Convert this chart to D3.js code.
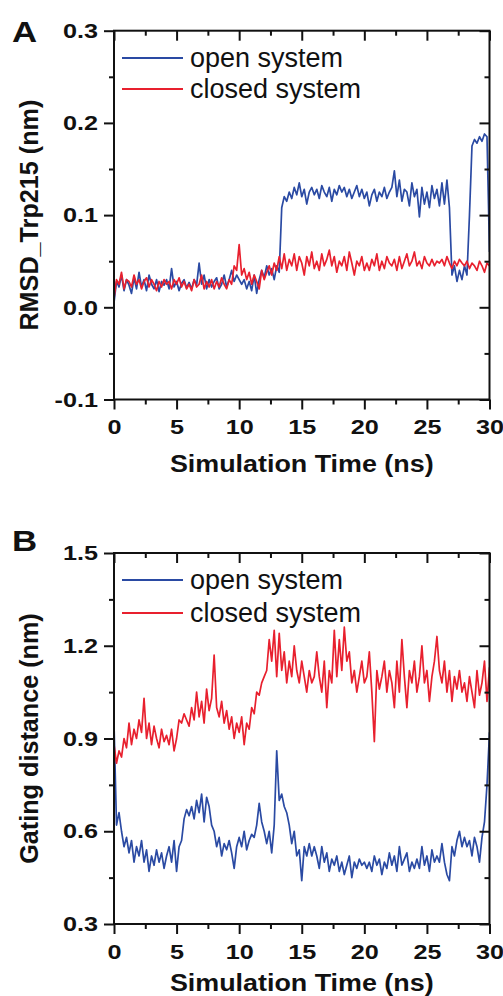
<!DOCTYPE html>
<html><head><meta charset="utf-8">
<script src="https://cdn.jsdelivr.net/npm/d3@7"></script>
<style>body{margin:0;background:#fff}svg{display:block}</style>
</head><body>
<svg id="c" width="503" height="996"></svg>
<script>
const timeStep = 0.2;
const seriesNames = ["open system", "closed system"];
const xTicks = [0, 5, 10, 15, 20, 25, 30];
const yTicksA = [-0.1, 0.0, 0.1, 0.2, 0.3];
const yTicksB = [0.3, 0.6, 0.9, 1.2, 1.5];

const rmsdOpen = [
0.005,0.028,0.022,0.035,0.018,0.03,0.024,0.015,0.032,0.02,0.038,
0.022,0.03,0.018,0.035,0.025,0.02,0.03,0.017,0.028,0.024,
0.03,0.02,0.042,0.022,0.028,0.018,0.026,0.03,0.021,0.027,
0.02,0.03,0.024,0.048,0.025,0.035,0.02,0.03,0.022,0.028,
0.032,0.02,0.025,0.035,0.022,0.03,0.04,0.028,0.035,0.03,
0.025,0.03,0.02,0.028,0.018,0.035,0.015,0.03,0.04,0.032,
0.045,0.035,0.042,0.03,0.045,0.038,0.108,0.12,0.115,0.125,
0.118,0.13,0.122,0.135,0.12,0.128,0.112,0.125,0.13,0.122,
0.128,0.118,0.132,0.125,0.12,0.13,0.115,0.128,0.122,0.132,
0.125,0.13,0.12,0.128,0.118,0.125,0.132,0.12,0.128,0.118,
0.125,0.11,0.122,0.128,0.115,0.125,0.12,0.13,0.118,0.125,
0.13,0.148,0.12,0.138,0.115,0.128,0.125,0.11,0.135,0.12,
0.128,0.098,0.13,0.112,0.125,0.108,0.132,0.118,0.128,0.11,
0.135,0.112,0.138,0.108,0.035,0.045,0.028,0.04,0.03,0.045,
0.035,0.1,0.175,0.182,0.178,0.185,0.18,0.188,0.185,0.06];

const rmsdClosed = [
0.01,0.03,0.025,0.038,0.02,0.03,0.028,0.022,0.035,0.025,0.03,
0.02,0.028,0.032,0.022,0.03,0.025,0.018,0.028,0.022,0.03,
0.025,0.028,0.02,0.03,0.025,0.032,0.022,0.028,0.02,0.025,
0.018,0.03,0.022,0.025,0.035,0.02,0.028,0.022,0.03,0.02,
0.028,0.022,0.032,0.025,0.02,0.03,0.025,0.045,0.04,0.068,
0.035,0.042,0.03,0.038,0.025,0.035,0.028,0.02,0.04,0.03,
0.038,0.045,0.035,0.048,0.04,0.055,0.042,0.058,0.04,0.052,
0.045,0.058,0.04,0.055,0.048,0.035,0.055,0.045,0.06,0.042,
0.05,0.04,0.058,0.045,0.052,0.062,0.045,0.055,0.038,0.05,
0.045,0.055,0.04,0.06,0.048,0.035,0.05,0.045,0.055,0.04,
0.048,0.04,0.052,0.045,0.058,0.04,0.05,0.042,0.055,0.048,
0.045,0.052,0.04,0.055,0.042,0.05,0.058,0.045,0.05,0.06,
0.045,0.05,0.042,0.055,0.048,0.045,0.052,0.045,0.05,0.048,
0.052,0.045,0.055,0.048,0.042,0.05,0.045,0.052,0.048,0.045,
0.05,0.042,0.048,0.045,0.04,0.05,0.045,0.038,0.048,0.045];

const gateOpen = [
0.95,0.62,0.66,0.6,0.55,0.58,0.53,0.57,0.5,0.55,0.52,
0.57,0.5,0.54,0.47,0.52,0.49,0.54,0.5,0.53,0.48,
0.52,0.55,0.5,0.57,0.47,0.55,0.57,0.64,0.67,0.65,
0.68,0.64,0.7,0.66,0.72,0.63,0.71,0.68,0.62,0.6,
0.55,0.58,0.52,0.56,0.54,0.57,0.53,0.48,0.55,0.58,
0.55,0.6,0.54,0.57,0.59,0.58,0.62,0.69,0.63,0.6,
0.56,0.6,0.53,0.62,0.86,0.7,0.72,0.68,0.66,0.62,
0.56,0.6,0.52,0.54,0.44,0.55,0.52,0.56,0.52,0.55,
0.52,0.48,0.55,0.5,0.53,0.47,0.51,0.49,0.52,0.47,
0.5,0.46,0.49,0.52,0.45,0.5,0.48,0.51,0.49,0.5,
0.48,0.5,0.47,0.52,0.49,0.51,0.46,0.5,0.48,0.53,
0.49,0.52,0.47,0.55,0.49,0.51,0.53,0.47,0.5,0.48,
0.51,0.48,0.55,0.49,0.52,0.47,0.54,0.5,0.52,0.5,
0.56,0.5,0.46,0.44,0.55,0.52,0.57,0.6,0.55,0.58,
0.55,0.57,0.52,0.58,0.55,0.5,0.58,0.63,0.75,0.92];

const gateClosed = [
0.88,0.82,0.86,0.84,0.9,0.87,0.95,0.88,0.93,0.9,0.96,
0.92,1.03,0.9,0.95,0.88,0.94,0.9,0.87,0.93,0.89,
0.91,0.88,0.93,0.86,0.9,0.96,0.95,0.98,0.96,0.94,
1.0,0.96,1.05,0.97,1.02,0.95,1.06,0.99,1.03,1.17,
1.0,0.97,1.02,0.95,0.99,0.93,0.97,0.9,0.95,0.92,
0.97,0.88,0.95,0.93,1.0,0.98,1.05,1.04,1.08,1.1,
1.12,1.22,1.15,1.25,1.1,1.24,1.12,1.18,1.08,1.15,
1.1,1.2,1.12,1.08,1.15,1.1,1.05,1.12,1.08,1.1,
1.18,1.1,1.05,1.15,1.0,1.12,1.08,1.25,1.1,1.22,
1.12,1.26,1.15,1.18,1.08,1.12,1.05,1.1,1.15,1.08,
1.1,1.18,1.05,0.89,1.12,1.06,1.1,1.15,1.05,1.12,
1.08,1.0,1.15,1.05,1.22,1.1,1.0,1.12,1.08,1.15,
1.05,1.1,1.2,1.08,1.12,1.02,1.1,1.15,1.23,1.12,
1.08,1.15,1.05,1.12,1.02,1.1,1.06,1.12,1.05,1.08,
1.02,1.1,1.05,1.0,1.12,1.04,1.08,1.15,1.02,1.13];

const colors = {open: "#2a4aa3", closed: "#e8202e"};
const svg = d3.select("#c");
const FONT = "Liberation Sans, Arial, sans-serif";
const fmtY = v => v.toFixed(1).replace("\u2212", "-");

// stretch text horizontally about its anchor point
function stretch(sel, s) {
  sel.each(function () {
    const t = d3.select(this);
    const x = +t.attr("x") || 0, y = +t.attr("y") || 0;
    t.attr("x", 0).attr("y", 0).attr("transform", `translate(${x},${y}) scale(${s},1)`);
  });
}

function panel(cfg) {
  const x = d3.scaleLinear().domain([0, 30]).range([114, 489.5]);
  const y = d3.scaleLinear().domain(cfg.yDomain).range(cfg.yRange);
  const g = svg.append("g");
  const [yb, yt] = cfg.yRange;
  const minorX = d3.range(2.5, 30, 5);
  const yStep = cfg.yTicks[1] - cfg.yTicks[0];
  const minorY = cfg.yTicks.slice(0, -1).map(v => +(v + yStep / 2).toFixed(4));

  const line = d3.line().x((d, i) => x(i * timeStep)).y(d => y(d));
  const clip = "clip" + cfg.id;
  svg.append("clipPath").attr("id", clip).append("rect")
    .attr("x", 114).attr("y", yt).attr("width", 489.5 - 114).attr("height", yb - yt);
  const lg = g.append("g").attr("clip-path", `url(#${clip})`);
  lg.append("path").datum(cfg.open).attr("d", line).attr("fill", "none")
    .attr("stroke", colors.open).attr("stroke-width", 1.7).attr("stroke-linejoin", "round");
  lg.append("path").datum(cfg.closed).attr("d", line).attr("fill", "none")
    .attr("stroke", colors.closed).attr("stroke-width", 1.7).attr("stroke-linejoin", "round");

  function styleAxis(sel) {
    sel.select(".domain").remove();
    sel.selectAll("line").attr("stroke", "#111").attr("stroke-width", 2);
    sel.selectAll("text").attr("font-family", FONT).attr("font-weight", "bold")
      .attr("font-size", 21).attr("fill", "#111");
    stretch(sel.selectAll("text"), 1.2);
  }
  g.append("g").attr("transform", `translate(0,${yb})`)
    .call(d3.axisBottom(x).tickValues(xTicks).tickSize(10).tickPadding(10).tickFormat(d3.format("d")))
    .call(styleAxis);
  g.append("g").attr("transform", `translate(0,${yb})`)
    .call(d3.axisBottom(x).tickValues(minorX).tickSize(5).tickFormat(""))
    .call(styleAxis);
  g.append("g").attr("transform", `translate(0,${yt})`)
    .call(d3.axisTop(x).tickValues(xTicks).tickSize(-10).tickFormat(""))
    .call(styleAxis);
  g.append("g").attr("transform", `translate(0,${yt})`)
    .call(d3.axisTop(x).tickValues(minorX).tickSize(-5).tickFormat(""))
    .call(styleAxis);
  g.append("g").attr("transform", `translate(114,0)`)
    .call(d3.axisLeft(y).tickValues(cfg.yTicks).tickSize(10).tickPadding(6).tickFormat(fmtY))
    .call(styleAxis);
  g.append("g").attr("transform", `translate(114,0)`)
    .call(d3.axisLeft(y).tickValues(minorY).tickSize(5).tickFormat(""))
    .call(styleAxis);
  g.append("g").attr("transform", `translate(489.5,0)`)
    .call(d3.axisRight(y).tickValues(cfg.yTicks).tickSize(-10).tickFormat(""))
    .call(styleAxis);
  g.append("g").attr("transform", `translate(489.5,0)`)
    .call(d3.axisRight(y).tickValues(minorY).tickSize(-5).tickFormat(""))
    .call(styleAxis);
  g.append("rect").attr("x", 114).attr("y", yt).attr("width", 489.5 - 114).attr("height", yb - yt)
    .attr("fill", "none").attr("stroke", "#111").attr("stroke-width", 2);

  const xt = g.append("text").attr("x", (114 + 489.5) / 2).attr("y", cfg.xTitleY).attr("text-anchor", "middle")
    .attr("font-family", FONT).attr("font-weight", "bold").attr("font-size", 24).attr("fill", "#111")
    .text("Simulation Time (ns)");
  stretch(xt, 1.12);
  g.append("text").attr("transform", `translate(38,${(yb + yt) / 2}) rotate(-90) scale(1.05,1.1)`).attr("text-anchor", "middle")
    .attr("font-family", FONT).attr("font-weight", "bold").attr("font-size", 24).attr("fill", "#111")
    .text(cfg.yTitle);
  const lt = g.append("text").attr("x", 12).attr("y", cfg.letterY)
    .attr("font-family", FONT).attr("font-weight", "bold").attr("font-size", 29).attr("fill", "#111")
    .text(cfg.letter);
  stretch(lt, 1.2);

  ["open", "closed"].forEach((k, i) => {
    const ly = cfg.legendY[i];
    g.append("line").attr("x1", 122).attr("x2", 183).attr("y1", ly).attr("y2", ly)
      .attr("stroke", colors[k]).attr("stroke-width", 2);
    g.append("text").attr("x", 190).attr("y", ly + 9)
      .attr("font-family", FONT).attr("font-size", 27).attr("fill", "#111")
      .text(seriesNames[i]);
  });
}

panel({id: "A", letter: "A", letterY: 42, yDomain: [-0.1, 0.3], yRange: [399.5, 30.7], yTicks: yTicksA,
  open: rmsdOpen, closed: rmsdClosed, yTitle: "RMSD_Trp215 (nm)", xTitleY: 472, legendY: [58, 89]});
panel({id: "B", letter: "B", letterY: 551, yDomain: [0.3, 1.5], yRange: [924, 553], yTicks: yTicksB,
  open: gateOpen, closed: gateClosed, yTitle: "Gating distance (nm)", xTitleY: 991, legendY: [580, 613]});
</script>
</body></html>
